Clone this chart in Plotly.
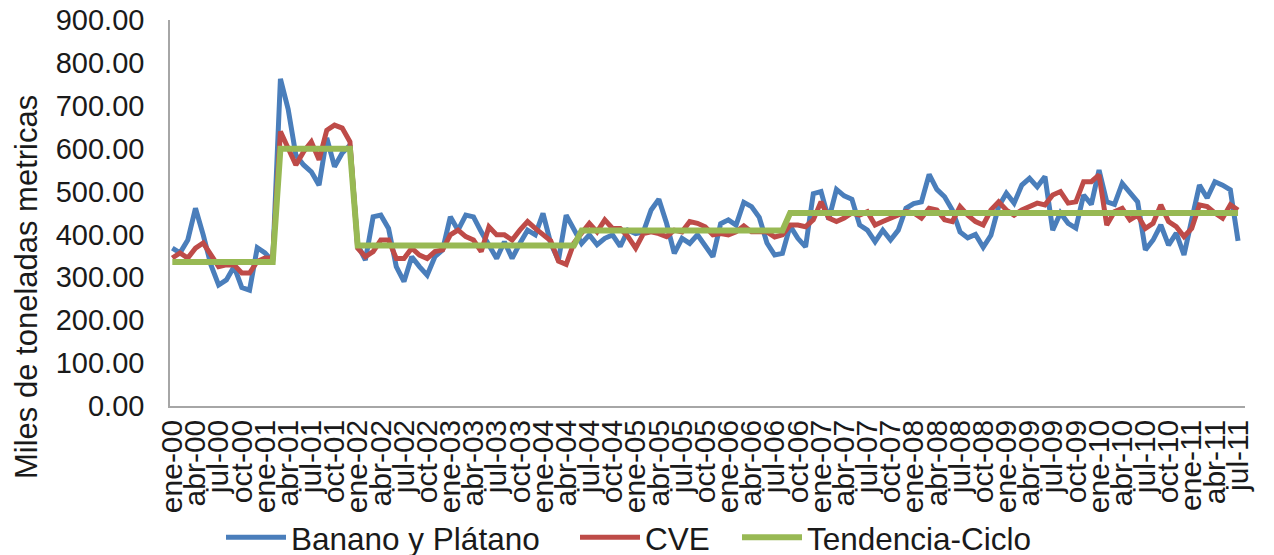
import plotly.graph_objects as go

month_abbr = ["ene", "feb", "mar", "abr", "may", "jun", "jul", "ago", "sep", "oct", "nov", "dic"]
years = ["00", "01", "02", "03", "04", "05", "06", "07", "08", "09", "10", "11"]
n_months = 139  # ene-00 .. jul-11
categories = [f"{month_abbr[k % 12]}-{years[k // 12]}" for k in range(n_months)]
tick_labels = categories[::3]

banano = [368, 357, 387, 461, 399, 329, 282, 294, 325, 276, 270, 369,
          357, 337, 763, 692, 585, 562, 546, 515, 625, 558, 590, 608,
          376, 340, 441, 445, 414, 325, 290, 348, 325, 305, 348, 364,
          441, 410, 445, 441, 406, 376, 344, 383, 344, 379, 410, 399,
          449, 379, 340, 445, 414, 379, 399, 376, 391, 399, 372, 410,
          402, 406, 457, 482, 426, 356, 391, 379, 399, 372, 348, 425,
          434, 422, 475, 465, 440, 380, 352, 356, 420, 391, 371, 495,
          500, 435, 505, 490, 482, 422, 410, 383, 410, 387, 410, 461,
          472, 476, 540, 505, 488, 457, 406, 392, 400, 370, 398, 465,
          496, 473, 515, 531, 511, 535, 410, 450, 426, 415, 492, 470,
          550, 476, 470, 519, 496, 476, 364, 387, 422, 375, 403, 352,
          434, 515, 485, 523, 515, 504, 385]

cve = [345, 357, 345, 368, 380, 352, 325, 329, 329, 310, 310, 337,
       345, 345, 640, 601, 562, 593, 616, 574, 643, 655, 648, 616,
       368, 348, 360, 387, 387, 344, 344, 368, 352, 344, 360, 364,
       399, 410, 395, 387, 360, 418, 399, 399, 387, 410, 430, 414,
       399, 385, 338, 330, 380, 405, 426, 406, 434, 414, 414, 395,
       368, 402, 406, 402, 395, 410, 406, 430, 426, 418, 399, 402,
       399, 406, 420, 406, 406, 406, 394, 399, 422, 422, 418, 434,
       476, 438, 430, 438, 450, 445, 453, 422, 430, 438, 445, 453,
       450, 438, 461, 457, 434, 430, 465, 445, 430, 422, 457, 476,
       457, 445, 457, 465, 473, 469, 492, 500, 473, 476, 523, 523,
       539, 422, 453, 461, 434, 445, 414, 426, 469, 430, 418, 395,
       414, 469, 465, 450, 438, 469, 457]

tendencia = [336] * 14 + [600] * 10 + [374] * 29 + [409] * 27 + [450] * 59

y_ticks = [0, 100, 200, 300, 400, 500, 600, 700, 800, 900]
y_title = "Miles de toneladas metricas"

FONT = "Liberation Sans, Arial, sans-serif"
TXT = "#1a1a1a"

fig = go.Figure()
fig.add_trace(go.Scatter(x=categories, y=banano, mode="lines", name="Banano y Plátano",
                         line=dict(color="#4A7EBB", width=5), legend="legend"))
fig.add_trace(go.Scatter(x=categories, y=cve, mode="lines", name="CVE",
                         line=dict(color="#BE4B48", width=5), legend="legend2"))
fig.add_trace(go.Scatter(x=categories, y=tendencia, mode="lines", name="Tendencia-Ciclo",
                         line=dict(color="#98B954", width=6), legend="legend3"))

leg_common = dict(orientation="h", xref="container", yref="container",
                  y=0.032, yanchor="middle", xanchor="left",
                  font=dict(size=31.5, color=TXT), itemwidth=60,
                  bgcolor="rgba(0,0,0,0)", borderwidth=0)

fig.update_layout(
    width=1274, height=555,
    margin=dict(l=170, r=29, t=20, b=149),
    paper_bgcolor="white", plot_bgcolor="white",
    font=dict(family=FONT, size=30, color=TXT),
    showlegend=True,
    legend=dict(x=221 / 1274, **leg_common),
    legend2=dict(x=575 / 1274, **leg_common),
    legend3=dict(x=737 / 1274, **leg_common),
    annotations=[dict(text=y_title, textangle=-90, xref="paper", yref="paper",
                      x=(26 - 170) / 1075, y=(406 - 287) / 386,
                      xanchor="center", yanchor="middle", showarrow=False,
                      font=dict(size=31, color=TXT))],
)
fig.update_xaxes(
    type="category", categoryorder="array", categoryarray=categories,
    range=[-0.3, 138.9],
    tickmode="array", tickvals=tick_labels, ticktext=tick_labels,
    tickangle=-90, tickfont=dict(size=30, color=TXT),
    showline=True, linecolor="#A6A6A6", linewidth=1.5,
    showgrid=False, ticks="", automargin=False, zeroline=False,
)
fig.update_yaxes(
    range=[0, 900], tickmode="array", tickvals=y_ticks,
    tickformat=".2f", tickfont=dict(size=29, color=TXT),
    ticklabelstandoff=18,
    showline=True, linecolor="#A6A6A6", linewidth=1.5,
    showgrid=False, ticks="", zeroline=False, automargin=False,
)

fig.write_html("out.html")
